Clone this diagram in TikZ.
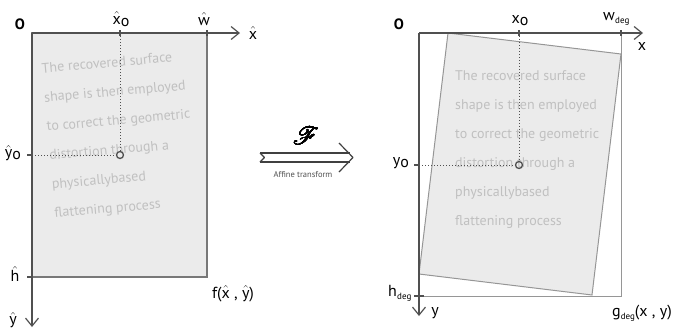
\documentclass[tikz,border=0pt]{standalone}
\usepackage{fontspec}
\setmainfont{PT Sans}
\usepackage{mathrsfs}
\usepackage{contour}
\usetikzlibrary{arrows.meta, positioning}
\definecolor{axisgray}{RGB}{80,80,80}
\definecolor{framegray}{RGB}{120,120,120}
\definecolor{lightframe}{RGB}{150,150,150}
\definecolor{sheetfill}{RGB}{235,235,235}
\definecolor{textgray}{RGB}{192,192,192}
\newcommand{\hatl}[1]{$\hat{\mbox{#1}}$}

\begin{document}
\begin{tikzpicture}[
    x=1pt, y=-1pt,
    axis/.style={draw=axisgray, line width=1.4pt,
                 -{Straight Barb[length=8pt, width=13pt, line width=1.2pt]}},
    sheet/.style={fill=sheetfill, draw=framegray, line width=1.2pt},
    guide/.style={draw=axisgray, dotted, line width=1pt},
    tickmark/.style={draw=axisgray, line width=1.2pt},
    lbl/.style={inner sep=0pt, font=\fontsize{16}{16}\selectfont},
    sublbl/.style={inner sep=0pt, font=\fontsize{9}{9}\selectfont},
    bodytext/.style={inner sep=0pt, align=left, text=textgray,
                     font=\fontsize{14}{29}\selectfont},
    centre/.style={circle, draw=axisgray, line width=1.3pt, inner sep=0pt, minimum size=7pt},
    mapline/.style={draw=axisgray!80!black, line width=1.2pt}
]
    \useasboundingbox (0,0) rectangle (681,330);

    % Source image f
    \coordinate (so) at (32,33);
    \draw[sheet] (so) rectangle (207,277);
    \node[bodytext, rotate=5, anchor=west] (srctext) at (48,142)
        {The recovered surface\\shape is then employed\\to correct the geometric\\distortion through a\\physicallybased\\flattening process};
    \draw[axis] (so) -- (240,33);
    \draw[axis] (so) -- (32,327);
    \draw[tickmark] (120,30) -- (120,36);
    \draw[tickmark] (207,30) -- (207,36);
    \draw[tickmark] (27,155) -- (32,155);
    \draw[tickmark] (27,277) -- (32,277);
    \node[centre] (srccentre) at (120,155) {};
    \draw[guide] (120,33) -- (srccentre);
    \draw[guide] (32,155) -- (srccentre);

    \node[lbl, font=\fontsize{15}{15}\selectfont\bfseries] (srcorigin) at (20,24) {O};
    \node[lbl] (srcxo) at (121,19) {\hatl{x}\raisebox{-2pt}{o}};
    \node[lbl] (srcw) at (204,19) {\hatl{w}};
    \node[lbl] (srcx) at (253,33) {\hatl{x}};
    \node[lbl] (srcyo) at (13,153) {\hatl{y}\raisebox{-2pt}{o}};
    \node[lbl] (srch) at (15,274) {\hatl{h}};
    \node[lbl] (srcy) at (13,320) {\hatl{y}};
    \node[lbl] (srcf) at (233,294) {f(\hatl{x} , \hatl{y})};

    % Affine transform
    \coordinate (ftail) at (260,157.5);
    \coordinate (fhead) at (353,157.5);
    \draw[mapline] (260,153) -- (350,153);
    \draw[mapline] (260,162) -- (350,162);
    \draw[mapline, line join=round] (260,153) -- (264.5,157.5) -- (260,162);
    \draw[mapline, line join=round] (339,143) -- (fhead) -- (339,172);
    \contourlength{0.35pt}
    \node[inner sep=0pt, font=\fontsize{26}{26}\selectfont] (fmap) at (306,136) {\contour{black}{$\mathscr{F}$}};
    \node[inner sep=0pt, font=\fontsize{8.5}{8.5}\selectfont, text=axisgray] (fname) at (303,175) {Affine transform};

    % Degraded image g
    \coordinate (do) at (419,33);
    \draw[lightframe, line width=1pt] (do) rectangle (621,296);
    \draw[fill=sheetfill, draw=lightframe, line width=1pt]
        (448,33) -- (621,54) -- (592,295) -- (419,274) -- cycle;
    \node[bodytext, anchor=west] (degtext) at (455,150)
        {The recovered surface\\shape is then employed\\to correct the geometric\\distortion through a\\physicallybased\\flattening process};
    \draw[axis] (do) -- (643,33);
    \draw[axis] (do) -- (419,316);
    \draw[tickmark] (519,30) -- (519,36);
    \draw[tickmark] (621,30) -- (621,36);
    \draw[tickmark] (414,165) -- (419,165);
    \draw[tickmark] (414,296) -- (424,296);
    \node[centre] (degcentre) at (519,165) {};
    \draw[guide] (519,33) -- (degcentre);
    \draw[guide] (419,165) -- (degcentre);

    \node[lbl, font=\fontsize{15}{15}\selectfont\bfseries] (degorigin) at (399,24) {O};
    \node[lbl] (degxo) at (520,21) {x\raisebox{-2pt}{o}};
    \node[lbl, anchor=east] (degw) at (615,17) {w};
    \node[sublbl, anchor=west] (degwsub) at (degw.south east) {deg};
    \node[lbl] (degx) at (642,46) {x};
    \node[lbl] (degyo) at (401,163) {y\raisebox{-2pt}{o}};
    \node[lbl, anchor=east] (degh) at (397,291) {h};
    \node[sublbl, anchor=west] (deghsub) at (degh.south east) {deg};
    \node[lbl] (degy) at (435,313) {y};
    \node[lbl, anchor=west] (degg) at (612,313) {g\raisebox{-3pt}{\fontsize{9}{9}\selectfont deg}(x , y)};
\end{tikzpicture}
\end{document}
